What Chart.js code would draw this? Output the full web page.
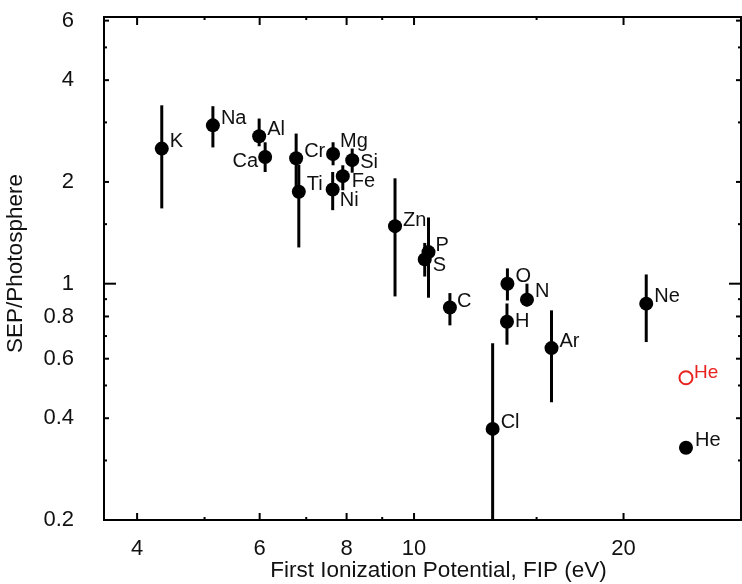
<!DOCTYPE html>
<html>
<head>
<meta charset="utf-8">
<script src="https://cdn.jsdelivr.net/npm/chart.js@4/dist/chart.umd.min.js"></script>
<style>
  html, body { margin: 0; padding: 0; background: #fff; }
</style>
</head>
<body>
<canvas id="fipChart" width="742" height="584"></canvas>
<script>
// SEP / photosphere abundance ratio against first ionization potential
const elements = ["K", "Na", "Al", "Ca", "Cr", "Ti", "Mg", "Si", "Fe", "Ni", "Zn", "P", "S", "C", "O", "N", "H", "Ar", "Cl", "Ne", "He"]
const fip = [4.34, 5.14, 5.99, 6.11, 6.77, 6.83, 7.65, 8.15, 7.90, 7.64, 9.39, 10.49, 10.36, 11.26, 13.62, 14.53, 13.60, 15.76, 12.97, 21.56, 24.59]
const ratio = [2.51, 2.94, 2.73, 2.37, 2.35, 1.87, 2.42, 2.32, 2.08, 1.90, 1.48, 1.24, 1.18, 0.85, 1.00, 0.897, 0.772, 0.645, 0.372, 0.873, 0.327]
const errHigh = [3.37, 3.35, 3.08, 2.62, 2.78, 2.25, 2.62, 2.51, 2.24, 2.14, 2.05, 1.57, 1.32, 0.938, 1.11, 1.0, 0.874, 0.834, 0.667, 1.065, null]
const errLow = [1.67, 2.53, 2.55, 2.14, 1.93, 1.28, 2.24, 2.13, 1.89, 1.65, 0.917, 0.909, 1.05, 0.753, 0.892, 0.857, 0.66, 0.446, 0.1, 0.672, null]

// corrected helium point (open red circle)
const heCorrectedFip = [24.59]
const heCorrectedRatio = [0.527]

// axis ticks
const xTickLabels = [4, 6, 8, 10, 20]
const xMinorTicks = [5, 7, 9, 15]
const yTickLabels = [0.2, 0.4, 0.6, 0.8, 1, 2, 4, 6]
const yMinorTicks = [0.3, 0.5, 0.7, 0.9, 1.5, 3, 5]

const xTitle = "First Ionization Potential, FIP (eV)"
const yTitle = "SEP/Photosphere"

const FONT = "'Liberation Sans', Arial, Helvetica, sans-serif"
const RED = "#e8231f"

// where each element's name sits relative to its dot
const labelOffset = {
  K: [8, -7], Na: [8, -7], Al: [8, -7], Ca: [-7, 4, "right"], Cr: [8, -7], Ti: [8, -7],
  Mg: [7, -12], Si: [8, 2], Fe: [9, 5], Ni: [7, 11], Zn: [8, -6], P: [7, -7], S: [8, 6],
  C: [7, -6], O: [8, -7], N: [8, -8], H: [8, 0], Ar: [8, -7], Cl: [8, -6], Ne: [8, -7], He: [9, -7]
}

const decor = {
  id: "decor",
  beforeDatasetsDraw(chart) {
    const { ctx, chartArea: a, scales: { x, y } } = chart
    ctx.save()
    ctx.beginPath()
    ctx.rect(a.left, a.top, a.right - a.left, a.bottom - a.top)
    ctx.clip()
    ctx.strokeStyle = "#000"
    ctx.lineWidth = 3
    elements.forEach((el, i) => {
      if (errLow[i] == null) return
      const px = x.getPixelForValue(fip[i])
      ctx.beginPath()
      ctx.moveTo(px, y.getPixelForValue(errLow[i]))
      ctx.lineTo(px, y.getPixelForValue(errHigh[i]))
      ctx.stroke()
    })
    ctx.restore()
  },
  afterDatasetsDraw(chart) {
    const { ctx, scales: { x, y } } = chart
    ctx.save()
    ctx.textBaseline = "middle"
    ctx.font = "20px " + FONT
    ctx.fillStyle = "#111"
    elements.forEach((el, i) => {
      const off = labelOffset[el]
      ctx.textAlign = off[2] || "left"
      ctx.fillText(el, x.getPixelForValue(fip[i]) + off[0], y.getPixelForValue(ratio[i]) + off[1])
    })
    ctx.font = "19px " + FONT
    ctx.fillStyle = RED
    ctx.textAlign = "left"
    ctx.fillText("He", x.getPixelForValue(heCorrectedFip[0]) + 8, y.getPixelForValue(heCorrectedRatio[0]) - 5)
    ctx.restore()
  },
  afterDraw(chart) {
    const { ctx, chartArea: a, scales: { x, y } } = chart
    ctx.save()
    ctx.strokeStyle = "#000"
    ctx.lineWidth = 2
    ctx.strokeRect(a.left, a.top, a.right - a.left, a.bottom - a.top)
    const tick = (x1, y1, x2, y2) => { ctx.beginPath(); ctx.moveTo(x1, y1); ctx.lineTo(x2, y2); ctx.stroke() }
    xTickLabels.forEach(v => {
      const px = x.getPixelForValue(v)
      tick(px, a.bottom, px, a.bottom - 7)
      tick(px, a.top, px, a.top + 8)
    })
    xMinorTicks.forEach(v => {
      const px = x.getPixelForValue(v)
      tick(px, a.bottom, px, a.bottom - 3)
      tick(px, a.top, px, a.top + 3)
    })
    yTickLabels.forEach(v => {
      const py = y.getPixelForValue(v)
      const len = v === 1 ? 12 : 5
      tick(a.left, py, a.left + len, py)
      tick(a.right, py, a.right - len, py)
    })
    yMinorTicks.forEach(v => {
      const py = y.getPixelForValue(v)
      tick(a.left, py, a.left + 3, py)
      tick(a.right, py, a.right - 3, py)
    })

    // axis titles (the original sits slightly off the plot centre)
    ctx.fillStyle = "#111"
    ctx.font = "22.5px " + FONT
    ctx.textAlign = "center"
    ctx.textBaseline = "middle"
    ctx.fillText(xTitle, (a.left + a.right) / 2 + 16, a.bottom + 51)
    ctx.translate(16, (a.top + a.bottom) / 2 - 5)
    ctx.rotate(-Math.PI / 2)
    ctx.fillText(yTitle, 0, 0)
    ctx.restore()
  }
}

new Chart(document.getElementById("fipChart"), {
  type: "scatter",
  data: {
    datasets: [
      {
        label: "SEP",
        data: fip.map((v, i) => ({ x: v, y: ratio[i] })),
        pointRadius: 7,
        pointHoverRadius: 7,
        backgroundColor: "#000",
        borderWidth: 0,
      },
      {
        label: "He corrected",
        data: heCorrectedFip.map((v, i) => ({ x: v, y: heCorrectedRatio[i] })),
        pointRadius: 6.5,
        pointHoverRadius: 6.5,
        backgroundColor: "rgba(0,0,0,0)",
        borderColor: RED,
        borderWidth: 2,
      },
    ],
  },
  options: {
    responsive: false,
    animation: false,
    devicePixelRatio: 1,
    layout: { autoPadding: false, padding: { top: 17, right: 1, left: 0, bottom: 0 } },
    plugins: { legend: { display: false }, tooltip: { enabled: false } },
    scales: {
      x: {
        type: "logarithmic",
        position: "bottom",
        min: 3.585,
        max: 29.5,
        afterBuildTicks: (s) => { s.ticks = xTickLabels.map(v => ({ value: v })) },
        afterFit: (s) => { s.height = 64; s.paddingLeft = 0; s.paddingRight = 0 },
        grid: { display: false, drawTicks: false },
        border: { display: false },
        ticks: {
          autoSkip: false,
          maxRotation: 0,
          padding: 16,
          color: "#111",
          font: { family: FONT, size: 22 },
          callback: (v) => String(v),
        },
      },
      y: {
        type: "logarithmic",
        min: 0.2,
        max: 6.15,
        afterBuildTicks: (s) => { s.ticks = yTickLabels.map(v => ({ value: v })) },
        afterFit: (s) => { s.width = 104; s.paddingTop = 0; s.paddingBottom = 0 },
        grid: { display: false, drawTicks: false },
        border: { display: false },
        ticks: {
          autoSkip: false,
          padding: 30,
          color: "#111",
          font: { family: FONT, size: 22 },
          callback: (v) => String(v),
        },
      },
    },
  },
  plugins: [decor],
})
</script>
</body>
</html>
